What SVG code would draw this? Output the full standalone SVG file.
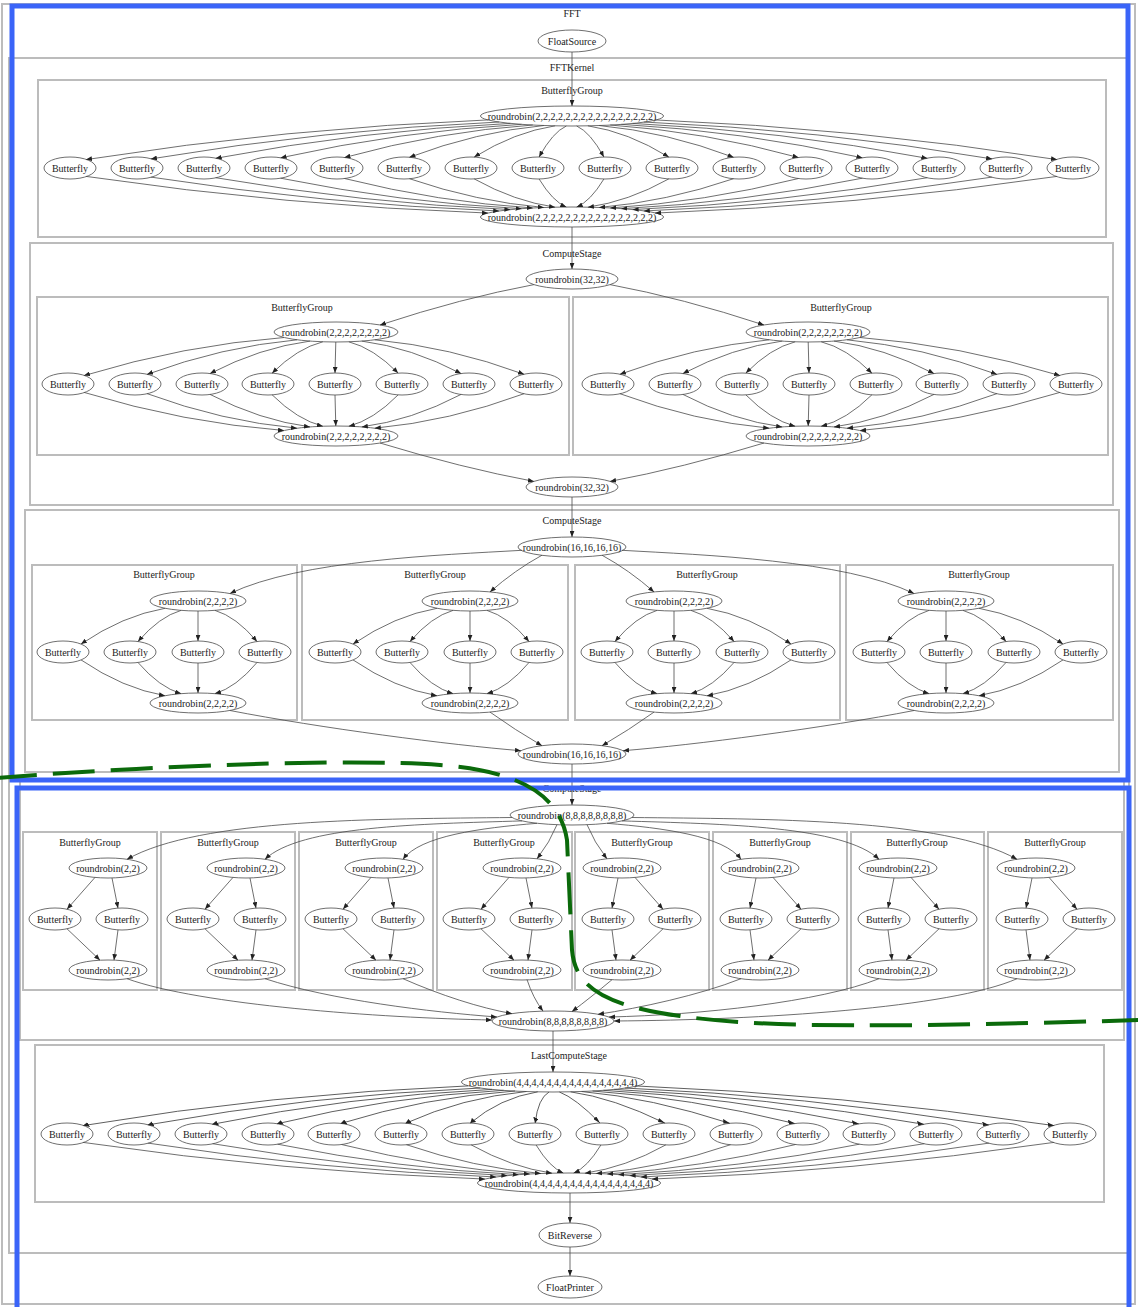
<svg xmlns="http://www.w3.org/2000/svg" width="1138" height="1307" viewBox="0 0 1138 1307">
<defs>
<style>
.cl rect{fill:none;stroke:#bcbcbc;stroke-width:2}
.cll text{font-family:"Liberation Serif","Times New Roman",serif;font-size:10px;fill:#222;text-anchor:middle}
.nd ellipse{fill:#fff;stroke:#4a4a4a;stroke-width:0.8}
.nd text{font-family:"Liberation Serif","Times New Roman",serif;font-size:10px;fill:#222;text-anchor:middle}
</style>
<marker id="ah" viewBox="0 0 10 8" refX="10" refY="4" markerWidth="6" markerHeight="5" markerUnits="userSpaceOnUse" orient="auto"><path d="M0,0 L10,4 L0,8 z" fill="#222"/></marker>
</defs>
<rect width="1138" height="1307" fill="#fff"/>

<!-- cluster frames -->
<g id="clusters" class="cl">
<rect x="2" y="4" width="1133" height="1300"/>
<rect x="9" y="58" width="1120" height="1195"/>
<rect x="38" y="80" width="1068" height="157"/>
<rect x="30" y="243" width="1083" height="262"/>
<rect x="37" y="297" width="532" height="158"/>
<rect x="573" y="297" width="535" height="158"/>
<rect x="25" y="510" width="1094" height="262"/>
<rect x="32" y="565" width="265" height="155"/>
<rect x="302" y="565" width="266" height="155"/>
<rect x="575" y="565" width="265" height="155"/>
<rect x="846" y="565" width="267" height="155"/>
<rect x="20" y="779" width="1104" height="261"/>
<rect x="23" y="832" width="134" height="158"/>
<rect x="161" y="832" width="134" height="158"/>
<rect x="299" y="832" width="134" height="158"/>
<rect x="437" y="832" width="135" height="158"/>
<rect x="575" y="832" width="134" height="158"/>
<rect x="713" y="832" width="134" height="158"/>
<rect x="851" y="832" width="133" height="158"/>
<rect x="988" y="832" width="134" height="158"/>
<rect x="35" y="1045" width="1069" height="157"/>
</g>

<!-- operators -->
<g id="nodes">
<g id="n_floatsource" class="nd"><ellipse cx="572" cy="41" rx="34" ry="11"/><text x="572" y="44.5">FloatSource</text></g>

<g id="n_s1_split" class="nd"><ellipse cx="572" cy="116" rx="91.5" ry="10"/><text x="572" y="119.5">roundrobin(2,2,2,2,2,2,2,2,2,2,2,2,2,2,2,2)</text></g>
<g id="n_s1_b01" class="nd"><ellipse cx="70" cy="168" rx="26" ry="11"/><text x="70" y="171.5">Butterfly</text></g>
<g id="n_s1_b02" class="nd"><ellipse cx="137" cy="168" rx="26" ry="11"/><text x="137" y="171.5">Butterfly</text></g>
<g id="n_s1_b03" class="nd"><ellipse cx="204" cy="168" rx="26" ry="11"/><text x="204" y="171.5">Butterfly</text></g>
<g id="n_s1_b04" class="nd"><ellipse cx="271" cy="168" rx="26" ry="11"/><text x="271" y="171.5">Butterfly</text></g>
<g id="n_s1_b05" class="nd"><ellipse cx="337" cy="168" rx="26" ry="11"/><text x="337" y="171.5">Butterfly</text></g>
<g id="n_s1_b06" class="nd"><ellipse cx="404" cy="168" rx="26" ry="11"/><text x="404" y="171.5">Butterfly</text></g>
<g id="n_s1_b07" class="nd"><ellipse cx="471" cy="168" rx="26" ry="11"/><text x="471" y="171.5">Butterfly</text></g>
<g id="n_s1_b08" class="nd"><ellipse cx="538" cy="168" rx="26" ry="11"/><text x="538" y="171.5">Butterfly</text></g>
<g id="n_s1_b09" class="nd"><ellipse cx="605" cy="168" rx="26" ry="11"/><text x="605" y="171.5">Butterfly</text></g>
<g id="n_s1_b10" class="nd"><ellipse cx="672" cy="168" rx="26" ry="11"/><text x="672" y="171.5">Butterfly</text></g>
<g id="n_s1_b11" class="nd"><ellipse cx="739" cy="168" rx="26" ry="11"/><text x="739" y="171.5">Butterfly</text></g>
<g id="n_s1_b12" class="nd"><ellipse cx="806" cy="168" rx="26" ry="11"/><text x="806" y="171.5">Butterfly</text></g>
<g id="n_s1_b13" class="nd"><ellipse cx="872" cy="168" rx="26" ry="11"/><text x="872" y="171.5">Butterfly</text></g>
<g id="n_s1_b14" class="nd"><ellipse cx="939" cy="168" rx="26" ry="11"/><text x="939" y="171.5">Butterfly</text></g>
<g id="n_s1_b15" class="nd"><ellipse cx="1006" cy="168" rx="26" ry="11"/><text x="1006" y="171.5">Butterfly</text></g>
<g id="n_s1_b16" class="nd"><ellipse cx="1073" cy="168" rx="26" ry="11"/><text x="1073" y="171.5">Butterfly</text></g>
<g id="n_s1_join" class="nd"><ellipse cx="572" cy="217" rx="91.5" ry="10"/><text x="572" y="220.5">roundrobin(2,2,2,2,2,2,2,2,2,2,2,2,2,2,2,2)</text></g>

<g id="n_s2_split" class="nd"><ellipse cx="572" cy="279" rx="46" ry="10"/><text x="572" y="282.5">roundrobin(32,32)</text></g>
<g id="n_s2a_split" class="nd"><ellipse cx="336" cy="332" rx="62" ry="10"/><text x="336" y="335.5">roundrobin(2,2,2,2,2,2,2,2)</text></g>
<g id="n_s2a_b1" class="nd"><ellipse cx="68" cy="384" rx="26" ry="11"/><text x="68" y="387.5">Butterfly</text></g>
<g id="n_s2a_b2" class="nd"><ellipse cx="135" cy="384" rx="26" ry="11"/><text x="135" y="387.5">Butterfly</text></g>
<g id="n_s2a_b3" class="nd"><ellipse cx="202" cy="384" rx="26" ry="11"/><text x="202" y="387.5">Butterfly</text></g>
<g id="n_s2a_b4" class="nd"><ellipse cx="268" cy="384" rx="26" ry="11"/><text x="268" y="387.5">Butterfly</text></g>
<g id="n_s2a_b5" class="nd"><ellipse cx="335" cy="384" rx="26" ry="11"/><text x="335" y="387.5">Butterfly</text></g>
<g id="n_s2a_b6" class="nd"><ellipse cx="402" cy="384" rx="26" ry="11"/><text x="402" y="387.5">Butterfly</text></g>
<g id="n_s2a_b7" class="nd"><ellipse cx="469" cy="384" rx="26" ry="11"/><text x="469" y="387.5">Butterfly</text></g>
<g id="n_s2a_b8" class="nd"><ellipse cx="536" cy="384" rx="26" ry="11"/><text x="536" y="387.5">Butterfly</text></g>
<g id="n_s2a_join" class="nd"><ellipse cx="336" cy="436" rx="62" ry="10"/><text x="336" y="439.5">roundrobin(2,2,2,2,2,2,2,2)</text></g>
<g id="n_s2b_split" class="nd"><ellipse cx="808" cy="332" rx="62" ry="10"/><text x="808" y="335.5">roundrobin(2,2,2,2,2,2,2,2)</text></g>
<g id="n_s2b_b1" class="nd"><ellipse cx="608" cy="384" rx="26" ry="11"/><text x="608" y="387.5">Butterfly</text></g>
<g id="n_s2b_b2" class="nd"><ellipse cx="675" cy="384" rx="26" ry="11"/><text x="675" y="387.5">Butterfly</text></g>
<g id="n_s2b_b3" class="nd"><ellipse cx="742" cy="384" rx="26" ry="11"/><text x="742" y="387.5">Butterfly</text></g>
<g id="n_s2b_b4" class="nd"><ellipse cx="809" cy="384" rx="26" ry="11"/><text x="809" y="387.5">Butterfly</text></g>
<g id="n_s2b_b5" class="nd"><ellipse cx="876" cy="384" rx="26" ry="11"/><text x="876" y="387.5">Butterfly</text></g>
<g id="n_s2b_b6" class="nd"><ellipse cx="942" cy="384" rx="26" ry="11"/><text x="942" y="387.5">Butterfly</text></g>
<g id="n_s2b_b7" class="nd"><ellipse cx="1009" cy="384" rx="26" ry="11"/><text x="1009" y="387.5">Butterfly</text></g>
<g id="n_s2b_b8" class="nd"><ellipse cx="1076" cy="384" rx="26" ry="11"/><text x="1076" y="387.5">Butterfly</text></g>
<g id="n_s2b_join" class="nd"><ellipse cx="808" cy="436" rx="62" ry="10"/><text x="808" y="439.5">roundrobin(2,2,2,2,2,2,2,2)</text></g>
<g id="n_s2_join" class="nd"><ellipse cx="572" cy="487" rx="46" ry="10"/><text x="572" y="490.5">roundrobin(32,32)</text></g>

<g id="n_s3_split" class="nd"><ellipse cx="572" cy="547" rx="54" ry="10"/><text x="572" y="550.5">roundrobin(16,16,16,16)</text></g>
<g id="n_s3a_split" class="nd"><ellipse cx="198" cy="601" rx="48" ry="10"/><text x="198" y="604.5">roundrobin(2,2,2,2)</text></g>
<g id="n_s3a_b1" class="nd"><ellipse cx="63" cy="652" rx="26" ry="11"/><text x="63" y="655.5">Butterfly</text></g>
<g id="n_s3a_b2" class="nd"><ellipse cx="130" cy="652" rx="26" ry="11"/><text x="130" y="655.5">Butterfly</text></g>
<g id="n_s3a_b3" class="nd"><ellipse cx="198" cy="652" rx="26" ry="11"/><text x="198" y="655.5">Butterfly</text></g>
<g id="n_s3a_b4" class="nd"><ellipse cx="265" cy="652" rx="26" ry="11"/><text x="265" y="655.5">Butterfly</text></g>
<g id="n_s3a_join" class="nd"><ellipse cx="198" cy="703" rx="48" ry="10"/><text x="198" y="706.5">roundrobin(2,2,2,2)</text></g>
<g id="n_s3b_split" class="nd"><ellipse cx="470" cy="601" rx="48" ry="10"/><text x="470" y="604.5">roundrobin(2,2,2,2)</text></g>
<g id="n_s3b_b1" class="nd"><ellipse cx="335" cy="652" rx="26" ry="11"/><text x="335" y="655.5">Butterfly</text></g>
<g id="n_s3b_b2" class="nd"><ellipse cx="402" cy="652" rx="26" ry="11"/><text x="402" y="655.5">Butterfly</text></g>
<g id="n_s3b_b3" class="nd"><ellipse cx="470" cy="652" rx="26" ry="11"/><text x="470" y="655.5">Butterfly</text></g>
<g id="n_s3b_b4" class="nd"><ellipse cx="537" cy="652" rx="26" ry="11"/><text x="537" y="655.5">Butterfly</text></g>
<g id="n_s3b_join" class="nd"><ellipse cx="470" cy="703" rx="48" ry="10"/><text x="470" y="706.5">roundrobin(2,2,2,2)</text></g>
<g id="n_s3c_split" class="nd"><ellipse cx="674" cy="601" rx="48" ry="10"/><text x="674" y="604.5">roundrobin(2,2,2,2)</text></g>
<g id="n_s3c_b1" class="nd"><ellipse cx="607" cy="652" rx="26" ry="11"/><text x="607" y="655.5">Butterfly</text></g>
<g id="n_s3c_b2" class="nd"><ellipse cx="674" cy="652" rx="26" ry="11"/><text x="674" y="655.5">Butterfly</text></g>
<g id="n_s3c_b3" class="nd"><ellipse cx="742" cy="652" rx="26" ry="11"/><text x="742" y="655.5">Butterfly</text></g>
<g id="n_s3c_b4" class="nd"><ellipse cx="809" cy="652" rx="26" ry="11"/><text x="809" y="655.5">Butterfly</text></g>
<g id="n_s3c_join" class="nd"><ellipse cx="674" cy="703" rx="48" ry="10"/><text x="674" y="706.5">roundrobin(2,2,2,2)</text></g>
<g id="n_s3d_split" class="nd"><ellipse cx="946" cy="601" rx="48" ry="10"/><text x="946" y="604.5">roundrobin(2,2,2,2)</text></g>
<g id="n_s3d_b1" class="nd"><ellipse cx="879" cy="652" rx="26" ry="11"/><text x="879" y="655.5">Butterfly</text></g>
<g id="n_s3d_b2" class="nd"><ellipse cx="946" cy="652" rx="26" ry="11"/><text x="946" y="655.5">Butterfly</text></g>
<g id="n_s3d_b3" class="nd"><ellipse cx="1014" cy="652" rx="26" ry="11"/><text x="1014" y="655.5">Butterfly</text></g>
<g id="n_s3d_b4" class="nd"><ellipse cx="1081" cy="652" rx="26" ry="11"/><text x="1081" y="655.5">Butterfly</text></g>
<g id="n_s3d_join" class="nd"><ellipse cx="946" cy="703" rx="48" ry="10"/><text x="946" y="706.5">roundrobin(2,2,2,2)</text></g>
<g id="n_s3_join" class="nd"><ellipse cx="572" cy="754" rx="54" ry="10"/><text x="572" y="757.5">roundrobin(16,16,16,16)</text></g>

<g id="n_s4_split" class="nd"><ellipse cx="572" cy="815" rx="62" ry="10"/><text x="572" y="818.5">roundrobin(8,8,8,8,8,8,8,8)</text></g>
<g id="n_s4g1_split" class="nd"><ellipse cx="108" cy="868" rx="39" ry="10"/><text x="108" y="871.5">roundrobin(2,2)</text></g>
<g id="n_s4g1_b1" class="nd"><ellipse cx="55" cy="919" rx="26" ry="11"/><text x="55" y="922.5">Butterfly</text></g>
<g id="n_s4g1_b2" class="nd"><ellipse cx="122" cy="919" rx="26" ry="11"/><text x="122" y="922.5">Butterfly</text></g>
<g id="n_s4g1_join" class="nd"><ellipse cx="108" cy="970" rx="39" ry="10"/><text x="108" y="973.5">roundrobin(2,2)</text></g>
<g id="n_s4g2_split" class="nd"><ellipse cx="246" cy="868" rx="39" ry="10"/><text x="246" y="871.5">roundrobin(2,2)</text></g>
<g id="n_s4g2_b1" class="nd"><ellipse cx="193" cy="919" rx="26" ry="11"/><text x="193" y="922.5">Butterfly</text></g>
<g id="n_s4g2_b2" class="nd"><ellipse cx="260" cy="919" rx="26" ry="11"/><text x="260" y="922.5">Butterfly</text></g>
<g id="n_s4g2_join" class="nd"><ellipse cx="246" cy="970" rx="39" ry="10"/><text x="246" y="973.5">roundrobin(2,2)</text></g>
<g id="n_s4g3_split" class="nd"><ellipse cx="384" cy="868" rx="39" ry="10"/><text x="384" y="871.5">roundrobin(2,2)</text></g>
<g id="n_s4g3_b1" class="nd"><ellipse cx="331" cy="919" rx="26" ry="11"/><text x="331" y="922.5">Butterfly</text></g>
<g id="n_s4g3_b2" class="nd"><ellipse cx="398" cy="919" rx="26" ry="11"/><text x="398" y="922.5">Butterfly</text></g>
<g id="n_s4g3_join" class="nd"><ellipse cx="384" cy="970" rx="39" ry="10"/><text x="384" y="973.5">roundrobin(2,2)</text></g>
<g id="n_s4g4_split" class="nd"><ellipse cx="522" cy="868" rx="39" ry="10"/><text x="522" y="871.5">roundrobin(2,2)</text></g>
<g id="n_s4g4_b1" class="nd"><ellipse cx="469" cy="919" rx="26" ry="11"/><text x="469" y="922.5">Butterfly</text></g>
<g id="n_s4g4_b2" class="nd"><ellipse cx="536" cy="919" rx="26" ry="11"/><text x="536" y="922.5">Butterfly</text></g>
<g id="n_s4g4_join" class="nd"><ellipse cx="522" cy="970" rx="39" ry="10"/><text x="522" y="973.5">roundrobin(2,2)</text></g>
<g id="n_s4g5_split" class="nd"><ellipse cx="622" cy="868" rx="39" ry="10"/><text x="622" y="871.5">roundrobin(2,2)</text></g>
<g id="n_s4g5_b1" class="nd"><ellipse cx="608" cy="919" rx="26" ry="11"/><text x="608" y="922.5">Butterfly</text></g>
<g id="n_s4g5_b2" class="nd"><ellipse cx="675" cy="919" rx="26" ry="11"/><text x="675" y="922.5">Butterfly</text></g>
<g id="n_s4g5_join" class="nd"><ellipse cx="622" cy="970" rx="39" ry="10"/><text x="622" y="973.5">roundrobin(2,2)</text></g>
<g id="n_s4g6_split" class="nd"><ellipse cx="760" cy="868" rx="39" ry="10"/><text x="760" y="871.5">roundrobin(2,2)</text></g>
<g id="n_s4g6_b1" class="nd"><ellipse cx="746" cy="919" rx="26" ry="11"/><text x="746" y="922.5">Butterfly</text></g>
<g id="n_s4g6_b2" class="nd"><ellipse cx="813" cy="919" rx="26" ry="11"/><text x="813" y="922.5">Butterfly</text></g>
<g id="n_s4g6_join" class="nd"><ellipse cx="760" cy="970" rx="39" ry="10"/><text x="760" y="973.5">roundrobin(2,2)</text></g>
<g id="n_s4g7_split" class="nd"><ellipse cx="898" cy="868" rx="39" ry="10"/><text x="898" y="871.5">roundrobin(2,2)</text></g>
<g id="n_s4g7_b1" class="nd"><ellipse cx="884" cy="919" rx="26" ry="11"/><text x="884" y="922.5">Butterfly</text></g>
<g id="n_s4g7_b2" class="nd"><ellipse cx="951" cy="919" rx="26" ry="11"/><text x="951" y="922.5">Butterfly</text></g>
<g id="n_s4g7_join" class="nd"><ellipse cx="898" cy="970" rx="39" ry="10"/><text x="898" y="973.5">roundrobin(2,2)</text></g>
<g id="n_s4g8_split" class="nd"><ellipse cx="1036" cy="868" rx="39" ry="10"/><text x="1036" y="871.5">roundrobin(2,2)</text></g>
<g id="n_s4g8_b1" class="nd"><ellipse cx="1022" cy="919" rx="26" ry="11"/><text x="1022" y="922.5">Butterfly</text></g>
<g id="n_s4g8_b2" class="nd"><ellipse cx="1089" cy="919" rx="26" ry="11"/><text x="1089" y="922.5">Butterfly</text></g>
<g id="n_s4g8_join" class="nd"><ellipse cx="1036" cy="970" rx="39" ry="10"/><text x="1036" y="973.5">roundrobin(2,2)</text></g>
<g id="n_s4_join" class="nd"><ellipse cx="553" cy="1021" rx="61" ry="10"/><text x="553" y="1024.5">roundrobin(8,8,8,8,8,8,8,8)</text></g>

<g id="n_l_split" class="nd"><ellipse cx="553" cy="1082" rx="91.5" ry="10"/><text x="553" y="1085.5">roundrobin(4,4,4,4,4,4,4,4,4,4,4,4,4,4,4,4)</text></g>
<g id="n_l_b01" class="nd"><ellipse cx="67" cy="1134" rx="26" ry="11"/><text x="67" y="1137.5">Butterfly</text></g>
<g id="n_l_b02" class="nd"><ellipse cx="134" cy="1134" rx="26" ry="11"/><text x="134" y="1137.5">Butterfly</text></g>
<g id="n_l_b03" class="nd"><ellipse cx="201" cy="1134" rx="26" ry="11"/><text x="201" y="1137.5">Butterfly</text></g>
<g id="n_l_b04" class="nd"><ellipse cx="268" cy="1134" rx="26" ry="11"/><text x="268" y="1137.5">Butterfly</text></g>
<g id="n_l_b05" class="nd"><ellipse cx="334" cy="1134" rx="26" ry="11"/><text x="334" y="1137.5">Butterfly</text></g>
<g id="n_l_b06" class="nd"><ellipse cx="401" cy="1134" rx="26" ry="11"/><text x="401" y="1137.5">Butterfly</text></g>
<g id="n_l_b07" class="nd"><ellipse cx="468" cy="1134" rx="26" ry="11"/><text x="468" y="1137.5">Butterfly</text></g>
<g id="n_l_b08" class="nd"><ellipse cx="535" cy="1134" rx="26" ry="11"/><text x="535" y="1137.5">Butterfly</text></g>
<g id="n_l_b09" class="nd"><ellipse cx="602" cy="1134" rx="26" ry="11"/><text x="602" y="1137.5">Butterfly</text></g>
<g id="n_l_b10" class="nd"><ellipse cx="669" cy="1134" rx="26" ry="11"/><text x="669" y="1137.5">Butterfly</text></g>
<g id="n_l_b11" class="nd"><ellipse cx="736" cy="1134" rx="26" ry="11"/><text x="736" y="1137.5">Butterfly</text></g>
<g id="n_l_b12" class="nd"><ellipse cx="803" cy="1134" rx="26" ry="11"/><text x="803" y="1137.5">Butterfly</text></g>
<g id="n_l_b13" class="nd"><ellipse cx="869" cy="1134" rx="26" ry="11"/><text x="869" y="1137.5">Butterfly</text></g>
<g id="n_l_b14" class="nd"><ellipse cx="936" cy="1134" rx="26" ry="11"/><text x="936" y="1137.5">Butterfly</text></g>
<g id="n_l_b15" class="nd"><ellipse cx="1003" cy="1134" rx="26" ry="11"/><text x="1003" y="1137.5">Butterfly</text></g>
<g id="n_l_b16" class="nd"><ellipse cx="1070" cy="1134" rx="26" ry="11"/><text x="1070" y="1137.5">Butterfly</text></g>
<g id="n_l_join" class="nd"><ellipse cx="569" cy="1183" rx="91.5" ry="10"/><text x="569" y="1186.5">roundrobin(4,4,4,4,4,4,4,4,4,4,4,4,4,4,4,4)</text></g>

<g id="n_bitreverse" class="nd"><ellipse cx="570" cy="1235" rx="31" ry="12"/><text x="570" y="1238.5">BitReverse</text></g>
<g id="n_floatprinter" class="nd"><ellipse cx="570" cy="1287" rx="32" ry="11"/><text x="570" y="1290.5">FloatPrinter</text></g>
</g>

<!-- data-flow edges -->
<g id="connectors" fill="none" stroke="#4a4a4a" stroke-width="0.8" marker-end="url(#ah)">
<path d="M572,52 L572,106"/>
<path d="M572,227 L572,269"/>
<path d="M572,497 L572,537"/>
<path d="M572,764 L572,805"/>
<path d="M553,1031 L553,1072"/>
<path d="M570,1193 L570,1223"/>
<path d="M570,1247 L570,1276"/>

<!-- first butterfly group: left half, mirrored for the right half -->
<g id="e_s1_split_l">
<path d="M488,119.9 Q287,128 86,159.6"/>
<path d="M499.2,122 Q325.1,129.5 150.9,158.9"/>
<path d="M510.4,123.4 Q363.1,130.4 215.7,158.3"/>
<path d="M521.6,124.3 Q401.1,131 280.6,157.8"/>
<path d="M532.7,125 Q438.6,131.5 344.5,157.5"/>
<path d="M543.9,125.5 Q476.7,131.8 409.4,157.3"/>
<path d="M555.1,125.8 Q514.7,132 474.2,157.1"/>
<path d="M566.3,126 Q552.7,132.2 539.1,157"/>
</g>
<use href="#e_s1_split_l" transform="matrix(-1,0,0,1,1143,0)"/>
<g id="e_s1_join_l">
<path d="M86,176.4 Q287,205.8 488,213.1"/>
<path d="M150.9,177.1 Q325.1,204.2 499.2,211"/>
<path d="M215.7,177.7 Q363.1,203.2 510.4,209.6"/>
<path d="M280.6,178.2 Q401.1,202.6 521.6,208.7"/>
<path d="M344.5,178.5 Q438.6,202.1 532.7,208"/>
<path d="M409.4,178.7 Q476.7,201.7 543.9,207.5"/>
<path d="M474.2,178.9 Q514.7,201.5 555.1,207.2"/>
<path d="M539.1,179 Q552.7,201.4 566.3,207"/>
</g>
<use href="#e_s1_join_l" transform="matrix(-1,0,0,1,1143,0)"/>

<!-- second stage -->
<g id="e_s2_l">
<path d="M534,284.6 Q462,298 380,325"/>
<path d="M284,337.5 Q184,345.1 84,375.6"/>
<path d="M297,339.8 Q222,346.7 147,374.4"/>
<path d="M310,341.1 Q260,347.6 210,373.6"/>
<path d="M322.8,341.8 Q297.5,348.1 272.1,373.2"/>
<path d="M335.8,342 L335,373"/>
<path d="M348.8,341.8 Q373.5,348.1 398.1,373.1"/>
<path d="M361.8,341.1 Q411.5,347.6 461.1,373.6"/>
<path d="M374.8,339.8 Q449.5,346.7 524.1,374.3"/>
<path d="M84,392.4 Q184,422.9 284,430.5"/>
<path d="M147,393.6 Q222,421.3 297,428.2"/>
<path d="M210,394.4 Q260,420.4 310,426.9"/>
<path d="M272.1,394.8 Q297.5,419.9 322.8,426.2"/>
<path d="M335,395 L335.8,426"/>
<path d="M398.1,394.9 Q373.5,419.9 348.8,426.2"/>
<path d="M461.1,394.4 Q411.5,420.4 361.8,426.9"/>
<path d="M524.1,393.7 Q449.5,421.3 374.8,428.2"/>
<path d="M380,443 Q462,468 534,481.4"/>
</g>
<use href="#e_s2_l" transform="matrix(-1,0,0,1,1144,0)"/>

<!-- third stage -->
<g id="e_s3_l">
<g id="e_s3a_int">
<path d="M165,608.3 Q123,615.5 81,644.1"/>
<path d="M181,610.4 Q159.5,616.6 138,641.5"/>
<path d="M198,611 L198,641"/>
<path d="M215,610.4 Q236,616.6 257,641.5"/>
<path d="M81,659.9 Q123,688.5 165,695.7"/>
<path d="M138,662.5 Q159.5,687.4 181,693.6"/>
<path d="M198,663 L198,693"/>
<path d="M257,662.5 Q236,687.4 215,693.6"/>
</g>
<use href="#e_s3a_int" transform="translate(272,0)"/>
<path d="M522,550.3 C440,555 300,560 230,593.5"/>
<path d="M542,555.2 Q515,570 490,591.9"/>
<path d="M230,710.5 C320,728 450,745 521,750.7"/>
<path d="M490,712.1 Q515,730 542,745.7"/>
</g>
<use href="#e_s3_l" transform="matrix(-1,0,0,1,1144,0)"/>

<!-- fourth stage -->
<g id="e_s4_l">
<g id="e_s4g1_int">
<path d="M95,877.4 L67,909.2"/>
<path d="M112,878 L118,908.1"/>
<path d="M67,928.8 L100,960.2"/>
<path d="M118,929.9 L114,960.1"/>
</g>
<use href="#e_s4g1_int" transform="translate(138,0)"/>
<use href="#e_s4g1_int" transform="translate(276,0)"/>
<use href="#e_s4g1_int" transform="translate(414,0)"/>
<path d="M512,817.5 C380,819 200,818 127,859.3"/>
<path d="M522,820.9 C420,824 300,826 265,859.3"/>
<path d="M537,823.3 C480,828 420,836 403,859.3"/>
<path d="M557,824.7 Q550,842 537,858.8"/>
</g>
<use href="#e_s4_l" transform="matrix(-1,0,0,1,1144,0)"/>
<path d="M127,978.7 C200,1005 380,1018 492,1020"/>
<path d="M265,978.7 C330,1000 430,1012 497,1017"/>
<path d="M403,978.7 C440,995 480,1008 512,1013.6"/>
<path d="M527,979.6 Q533,998 543,1011.1"/>
<path d="M612,979.7 Q590,998 572,1011.5"/>
<path d="M741,978.7 C700,995 640,1008 598,1014.3"/>
<path d="M879,978.7 C820,1002 700,1015 609,1017"/>
<path d="M1017,978.7 C950,1008 760,1020 614,1021"/>

<!-- last compute stage -->
<use href="#e_s1_split_l" transform="matrix(1,0,0.43,1,-71.46,966)"/>
<use href="#e_s1_split_l" transform="matrix(1,0,0.43,1,-71.46,966) matrix(-1,0,0,1,1143,0)"/>
<use href="#e_s1_join_l" transform="translate(-3,966)"/>
<use href="#e_s1_join_l" transform="translate(-3,966) matrix(-1,0,0,1,1143,0)"/>
</g>

<!-- cluster titles -->
<g id="cluster-labels" class="cll">
<text x="572" y="16.5">FFT</text>
<text x="572" y="70.5">FFTKernel</text>
<text x="572" y="94">ButterflyGroup</text>
<text x="572" y="257">ComputeStage</text>
<text x="302" y="310.5">ButterflyGroup</text>
<text x="841" y="310.5">ButterflyGroup</text>
<text x="572" y="523.5">ComputeStage</text>
<text x="164" y="577.5">ButterflyGroup</text>
<text x="435" y="577.5">ButterflyGroup</text>
<text x="707" y="577.5">ButterflyGroup</text>
<text x="979" y="577.5">ButterflyGroup</text>
<text x="572" y="791.5">ComputeStage</text>
<text x="90" y="845.5">ButterflyGroup</text>
<text x="228" y="845.5">ButterflyGroup</text>
<text x="366" y="845.5">ButterflyGroup</text>
<text x="504" y="845.5">ButterflyGroup</text>
<text x="642" y="845.5">ButterflyGroup</text>
<text x="780" y="845.5">ButterflyGroup</text>
<text x="917" y="845.5">ButterflyGroup</text>
<text x="1055" y="845.5">ButterflyGroup</text>
<text x="569" y="1058.5">LastComputeStage</text>
</g>

<!-- highlight marks -->
<g id="highlights" fill="none">
<rect x="12" y="6" width="1116" height="774" stroke="#3a64f8" stroke-width="5"/>
<rect x="17" y="788" width="1112" height="540" stroke="#3a64f8" stroke-width="5"/>
<path d="M-5,778 C150,766 350,758 440,765 C520,771 560,795 567,840 L572,950 C575,985 600,1005 680,1016 C750,1026 850,1029 1140,1020" stroke="#0b6a0b" stroke-width="4" stroke-dasharray="42,16"/>
</g>
</svg>
